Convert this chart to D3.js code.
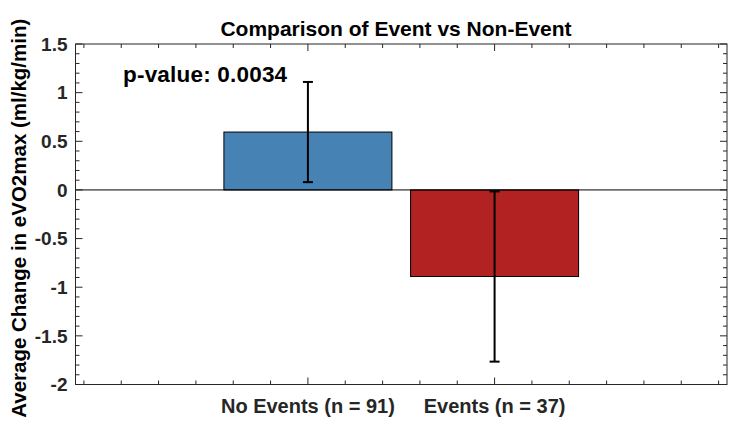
<!DOCTYPE html>
<html>
<head>
<meta charset="utf-8">
<script src="https://cdn.jsdelivr.net/npm/d3@7"></script>
<style>
  body { margin: 0; background: #fff; }
  svg { display: block; font-family: "Liberation Sans", Arial, sans-serif; }
</style>
</head>
<body>
<div id="chart"></div>
<script>
// Values.
var groups = ["No Events (n = 91)", "Events (n = 37)"];
var groupPos = [1, 2];
var means = [0.595, -0.89];
var errors = [0.515, 0.875];
var barColors = ["#4682B4", "#B22222"];
var yTickValues = [-2, -1.5, -1, -0.5, 0, 0.5, 1, 1.5];
var yTickLabels = ["-2", "-1.5", "-1", "-0.5", "0", "0.5", "1", "1.5"];
var pValueText = "p-value: 0.0034";

function buildChart(divName) {
  var width = 750, height = 438;
  var left = 75.5, right = 727, top = 44, bottom = 384.5;

  var x = d3.scaleLinear().domain([-0.245, 3.245]).range([left, right]);
  var y = d3.scaleLinear().domain([-2, 1.5]).range([bottom, top]);

  var svg = d3.select("#" + divName).
                append("svg").
                attr("width", width).
                attr("height", height);

  // bars
  svg.selectAll("rect.bar").
    data(means).
    enter().
    append("rect").
    attr("class", "bar").
    attr("x", function(d, i) { return x(groupPos[i] - 0.45); }).
    attr("width", function(d, i) { return x(groupPos[i] + 0.45) - x(groupPos[i] - 0.45); }).
    attr("y", function(d) { return y(Math.max(0, d)); }).
    attr("height", function(d) { return Math.abs(y(d) - y(0)); }).
    attr("fill", function(d, i) { return barColors[i]; }).
    attr("stroke", "#000").
    attr("stroke-width", 1);

  // baseline at zero
  svg.append("line").
    attr("x1", left).attr("x2", right).
    attr("y1", y(0)).attr("y2", y(0)).
    attr("stroke", "#000").attr("stroke-width", 1);

  // error bars
  var err = svg.selectAll("g.err").
    data(means).
    enter().
    append("g").
    attr("class", "err").
    attr("stroke", "#000").
    attr("stroke-width", 2);
  err.append("line").
    attr("x1", function(d, i) { return x(groupPos[i]); }).
    attr("x2", function(d, i) { return x(groupPos[i]); }).
    attr("y1", function(d, i) { return y(d + errors[i]); }).
    attr("y2", function(d, i) { return y(d - errors[i]); });
  [1, -1].forEach(function(sign) {
    err.append("line").
      attr("x1", function(d, i) { return x(groupPos[i]) - 5; }).
      attr("x2", function(d, i) { return x(groupPos[i]) + 5; }).
      attr("y1", function(d, i) { return y(d + sign * errors[i]); }).
      attr("y2", function(d, i) { return y(d + sign * errors[i]); });
  });

  // ticks on all four sides (box on), pointing inward
  var xTicks = d3.range(-0.2, 3.21, 0.2);
  var yTicks = d3.range(-2, 1.51, 0.1);
  var isMajorX = function(v) { return Math.abs(v - Math.round(v)) < 1e-6 && (Math.round(v) == 1 || Math.round(v) == 2); };
  var isMajorY = function(v) { return Math.abs(v * 2 - Math.round(v * 2)) < 1e-6; };
  var tickG = svg.append("g").attr("stroke", "#262626").attr("stroke-width", 1);
  xTicks.forEach(function(v) {
    var len = isMajorX(v) ? 7 : 4;
    tickG.append("line").attr("x1", x(v)).attr("x2", x(v)).attr("y1", bottom).attr("y2", bottom - len);
    tickG.append("line").attr("x1", x(v)).attr("x2", x(v)).attr("y1", top).attr("y2", top + len);
  });
  yTicks.forEach(function(v) {
    var len = isMajorY(v) ? 7 : 4;
    tickG.append("line").attr("x1", left).attr("x2", left + len).attr("y1", y(v)).attr("y2", y(v));
    tickG.append("line").attr("x1", right).attr("x2", right - len).attr("y1", y(v)).attr("y2", y(v));
  });

  // axes box
  svg.append("rect").
    attr("x", left).attr("y", top).
    attr("width", right - left).attr("height", bottom - top).
    attr("fill", "none").attr("stroke", "#262626").attr("stroke-width", 1);

  // tick labels
  svg.selectAll("text.ytick").
    data(yTickValues).
    enter().
    append("text").
    attr("class", "ytick").
    attr("x", left - 8).
    attr("y", function(d) { return y(d); }).
    attr("dy", "0.35em").
    attr("text-anchor", "end").
    attr("font-size", 19).
    attr("font-weight", "bold").
    attr("fill", "#262626").
    text(function(d, i) { return yTickLabels[i]; });

  svg.selectAll("text.xtick").
    data(groups).
    enter().
    append("text").
    attr("class", "xtick").
    attr("x", function(d, i) { return x(groupPos[i]); }).
    attr("y", 413).
    attr("text-anchor", "middle").
    attr("font-size", 20).
    attr("font-weight", "bold").
    attr("fill", "#262626").
    text(function(d) { return d; });

  // title, axis label, annotation
  svg.append("text").
    attr("x", 396).attr("y", 36).
    attr("text-anchor", "middle").
    attr("font-size", 21).
    attr("font-weight", "bold").
    attr("fill", "#000").
    text("Comparison of Event vs Non-Event");

  svg.append("text").
    attr("transform", "translate(26," + ((top + bottom) / 2 + 4) + ") rotate(-90)").
    attr("text-anchor", "middle").
    attr("font-size", 20.5).
    attr("font-weight", "bold").
    attr("fill", "#000").
    text("Average Change in eVO2max (ml/kg/min)");

  svg.append("text").
    attr("x", 123).attr("y", 82).
    attr("font-size", 22.5).
    attr("font-weight", "bold").
    attr("letter-spacing", 0.2).
    attr("fill", "#000").
    text(pValueText);
}

document.addEventListener('DOMContentLoaded', function () {
  buildChart("chart");
});
</script>
</body>
</html>
